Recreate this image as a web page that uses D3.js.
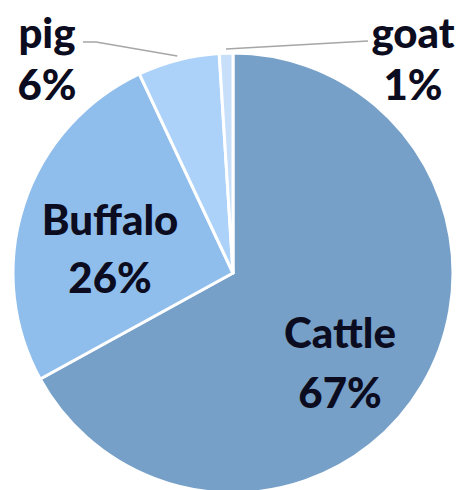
<!DOCTYPE html>
<html>
<head>
<meta charset="utf-8">
<script src="https://cdn.jsdelivr.net/npm/d3@7"></script>
<style>
  body { margin: 0; background: #fff; }
  text { font-family: Lato, "Open Sans", sans-serif; font-weight: 900; fill: #0c0c20; }
</style>
</head>
<body>
<div id="chart"></div>
<script>
// data
const animals = ["Cattle", "Buffalo", "pig", "goat"];
const shares = [67, 26, 6, 1];
const colors = ["#76a0c8", "#8fbeec", "#acd2fa", "#c8dffa"];

const width = 464, height = 490;
const cx = 233, cy = 273, radius = 220;

const svg = d3.select("#chart").append("svg")
    .attr("width", width)
    .attr("height", height);

const g = svg.append("g")
    .attr("transform", "translate(" + cx + "," + cy + ")");

const pie = d3.pie().sort(null).value(d => d.value);
const arcs = pie(animals.map((a, i) => ({name: a, value: shares[i], color: colors[i]})));

const arc = d3.arc().innerRadius(0).outerRadius(radius);

g.selectAll("path.slice")
    .data(arcs)
    .enter().append("path")
    .attr("class", "slice")
    .attr("d", arc)
    .attr("fill", d => d.data.color)
    .attr("stroke", "#fff")
    .attr("stroke-width", 3)
    .attr("stroke-linejoin", "round");

// label placement: x centre, baseline of name, baseline of percent
const labelPos = {
    Cattle: {x: 340, y1: 348, y2: 408},
    Buffalo: {x: 110, y1: 235, y2: 293},
    pig: {x: 47, y1: 48, y2: 100},
    goat: {x: 413, y1: 48, y2: 100}
};

arcs.forEach(d => {
    const p = labelPos[d.data.name];
    svg.append("text")
        .attr("x", p.x).attr("y", p.y1)
        .attr("text-anchor", "middle")
        .attr("font-size", 42)
        .text(d.data.name);
    svg.append("text")
        .attr("x", p.x).attr("y", p.y2)
        .attr("text-anchor", "middle")
        .attr("font-size", 42)
        .text(d.data.value + "%");
});

// leader lines for small slices
const leaderArc = d3.arc().innerRadius(radius + 4).outerRadius(radius + 4);
const leaders = [
    {name: "pig", from: [83, 42], elbow: [96, 42]},
    {name: "goat", from: [368, 41], elbow: [368, 41]}
];
leaders.forEach(l => {
    const d = arcs.find(a => a.data.name === l.name);
    const c = leaderArc.centroid(d);
    const end = [cx + c[0], cy + c[1]];
    svg.append("polyline")
        .attr("points", [l.from, l.elbow, end].map(p => p.join(",")).join(" "))
        .attr("fill", "none")
        .attr("stroke", "#a6a6a6")
        .attr("stroke-width", 1.5);
});
</script>
</body>
</html>
